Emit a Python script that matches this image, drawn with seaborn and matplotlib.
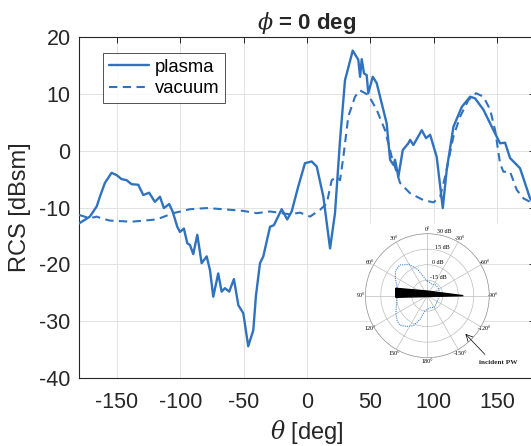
import numpy as np
import pandas as pd
import matplotlib
matplotlib.use("Agg")
import matplotlib.pyplot as plt
import seaborn as sns

# ---------------- data ----------------
THETA_PLASMA = [-180, -171.4, -166, -163.5, -159.6, -154.3, -150.3, -146.4, -142.4, -138.5,
                -133.2, -129.3, -124.6, -120.1, -116.1, -113.0, -108.8, -106.1, -102.4, -100.3,
                -97.2, -94.5, -92.4, -89.8, -86.6, -83.2, -79.2, -76.6, -74.0, -70.1,
                -67.4, -64.8, -61.4, -57.7, -54.2, -50.3, -46.4, -42.4, -40.3, -37.1,
                -34.5, -29.2, -26.1, -20.0, -15.6, -12.1, -6.9, -1.6, 3.7, 7.7,
                12.9, 18.2, 22.1, 26.1, 30.0, 36.1, 40.5, 41.9, 43.2, 45.0,
                47.1, 48.4, 51.9, 55.0, 59.0, 62.9, 65.6, 68.2, 69.5, 72.1,
                75.6, 80.0, 81.4, 84.0, 90.6, 94.0, 97.2, 102.4, 107.2, 110.3,
                115.6, 122.2, 128.8, 132.7, 139.3, 147.2, 152.4, 156.4, 160.3, 165.6,
                168.2, 176.1, 180]
RCS_PLASMA = [-12.8, -11.6, -9.8, -8.1, -5.7, -3.9, -4.3, -5.0, -5.2, -5.9,
              -6.0, -7.8, -7.4, -9.0, -8.1, -10.1, -9.4, -10.7, -13.4, -14.3,
              -13.7, -16.3, -16.6, -18.2, -14.8, -19.8, -18.6, -21.0, -25.7, -21.6,
              -24.8, -24.2, -24.8, -22.6, -27.2, -28.6, -34.4, -31.6, -25.5, -19.8,
              -18.6, -13.4, -13.1, -10.3, -12.1, -10.7, -6.3, -2.2, -1.9, -2.8,
              -8.1, -17.2, -11.0, 1.9, 12.4, 17.6, 16.0, 13.0, 16.1, 13.6,
              13.3, 10.1, 13.0, 11.9, 8.3, 4.8, -1.6, -2.5, -1.6, -4.6,
              0.1, 1.3, 1.9, 1.0, 3.6, 2.2, 2.8, -1.1, -10.1, -3.4,
              4.2, 7.7, 9.5, 9.2, 7.2, 3.6, 1.3, 1.4, -1.3, -2.5,
              -3.1, -8.4, -9.5]

THETA_VACUUM = [-180, -171.4, -166.1, -160.9, -155.6, -138.5, -118.7, -105.6, -92.4, -79.2,
                -66.1, -50.3, -39.7, -29.2, -13.4, -5.5, 2.4, 10.3, 15.6, 19.5,
                23.5, 26.1, 28.7, 32.6, 37.9, 41.9, 48.4, 55.0, 61.6, 66.9,
                73.5, 81.4, 91.9, 99.8, 105.1, 109.0, 115.6, 120.9, 127.4, 133.5,
                139.3, 144.6, 148.5, 152.4, 155.0, 160.3, 165.6, 170.9, 176.1, 180]
RCS_VACUUM = [-11.3, -11.9, -11.6, -12.0, -12.3, -12.5, -12.1, -11.0, -10.3, -10.1,
              -10.3, -10.6, -11.0, -10.7, -11.2, -10.9, -11.6, -10.4, -9.3, -5.2,
              -4.6, -5.2, -1.1, 6.0, 9.5, 10.6, 9.8, 7.2, 3.6, -1.1,
              -5.7, -7.5, -8.7, -9.1, -8.1, -4.6, 2.5, 6.0, 8.9, 10.1,
              9.5, 7.2, 3.6, -2.2, -3.7, -3.7, -6.9, -8.4, -9.0, -9.2]

X_TICKS = [-150, -100, -50, 0, 50, 100, 150]
Y_TICKS = [-40, -30, -20, -10, 0, 10, 20]

# inset: radiation pattern (deg, dB), 0 deg at top, counter-clockwise
PAT_THETA = [0, 10, 20, 30, 42, 52, 62, 72, 80, 90, 100, 110, 120, 130, 137, 146, 155,
             163, 171, 180, 195, 210, 225, 240, 256, 270, 285, 300, 315, 324, 340, 350, 360]
PAT_DB = [-16, -12, -3, 5, 10, 9, 5, 1, 0, -1, 0, 2, 5, 8, 9, 6, 2,
          -6, -15, -17, -18, -17, -18, -19, -19, -18, -18, -17, -17, -17, -18, -17, -16]
THETA_LABELS = ["0°", "30°", "60°", "90°", "120°", "150°", "180°",
                "-150°", "-120°", "-90°", "-60°", "-30°"]
R_TICKS = [-15, 0, 15, 30]
R_LABELS = ["-15 dB", "0 dB", "15 dB", "30 dB"]
# black object outline (deg, dB)
WEDGE_THETA = [76.8, 92.9, -90, 0]
WEDGE_DB = [1.4, 0.6, 4.8, -25.5]

BLUE = "#2f72be"
DARK = "#262626"

sns.set_theme(style="white")
plt.rcParams["font.family"] = ["Liberation Sans", "DejaVu Sans"]
plt.rcParams["mathtext.fontset"] = "dejavuserif"
plt.rcParams["axes.unicode_minus"] = False

df_p = pd.DataFrame({"theta": THETA_PLASMA, "rcs": RCS_PLASMA})
df_v = pd.DataFrame({"theta": THETA_VACUUM, "rcs": RCS_VACUUM})

fig = plt.figure(figsize=(5.31, 4.46), dpi=100)
ax = fig.add_axes([79 / 531, 68 / 446, 456 / 531, 341 / 446])

sns.lineplot(data=df_p, x="theta", y="rcs", ax=ax, color=BLUE, lw=1.7,
             label="plasma", sort=False, estimator=None, zorder=3)
sns.lineplot(data=df_v, x="theta", y="rcs", ax=ax, color=BLUE, lw=1.5,
             label="vacuum", sort=False, estimator=None, zorder=3)
ax.lines[1].set_dashes([4, 2.6])

ax.set_xlim(-180, 180)
ax.set_ylim(-40, 20)
ax.set_xticks(X_TICKS)
ax.set_yticks(Y_TICKS)
ax.tick_params(direction="in", length=4, width=0.7, colors=DARK, labelsize=15.5,
               top=True, right=True)
ax.tick_params(axis="x", pad=10)
ax.tick_params(axis="y", pad=6)
for s in ax.spines.values():
    s.set_color(DARK)
    s.set_linewidth(0.8)

# grid: vertical lines stop above the inset picture
ax.grid(axis="y", color="#e3e3e3", lw=0.7)
for t in X_TICKS:
    lo = -12.7 if t >= 50 else -40
    ax.vlines(t, lo, 20, color="#e3e3e3", lw=0.7, zorder=0.5)

ax.set_xlabel(r"$\theta$ [deg]", fontsize=17, color=DARK, labelpad=4)
ax.set_ylabel("RCS [dBsm]", fontsize=17, color=DARK, labelpad=6)
ax.set_title(r"$\phi$ = 0 deg", fontsize=16, fontweight="bold", pad=6)

leg = ax.legend(loc="upper left", bbox_to_anchor=(0.0526, 0.953), borderaxespad=0,
                fontsize=13.3, frameon=True, fancybox=False, handlelength=2.2,
                handletextpad=0.3, labelspacing=0.25, borderpad=0.3)
leg.get_frame().set_edgecolor(DARK)
leg.get_frame().set_linewidth(0.7)
for t in leg.get_texts():
    t.set_color("black")

# ---------------- polar inset ----------------
r_px = 62
cx, cy = 427.3, 446 - 295.7
pax = fig.add_axes([(cx - r_px) / 531, (cy - r_px) / 446, 2 * r_px / 531, 2 * r_px / 446],
                   projection="polar")
pax.set_theta_zero_location("N")
pax.set_theta_direction(1)
pax.set_ylim(-30, 30)
pax.set_yticks(R_TICKS)
pax.set_yticklabels(R_LABELS, fontsize=4.3, family="Liberation Serif")
pax.set_rlabel_position(-9)
pax.set_xticks(np.deg2rad(np.arange(0, 360, 30)))
pax.set_xticklabels(THETA_LABELS, fontsize=4.3, family="Liberation Serif")
pax.xaxis.set_minor_locator(matplotlib.ticker.MultipleLocator(np.deg2rad(5)))
pax.tick_params(axis="x", which="both", direction="in", length=2, width=0.4,
                colors="#9a9a9a", pad=-4)
pax.tick_params(axis="x", which="major", labelcolor="black")
pax.tick_params(axis="y", labelcolor="black", pad=0)
pax.grid(color="#bdbdbd", lw=0.5)
pax.spines["polar"].set_color("#9a9a9a")
pax.spines["polar"].set_linewidth(0.5)
pax.set_facecolor("white")

pax.plot(np.deg2rad(PAT_THETA), PAT_DB, color="#3f88d0", lw=0.8, ls=(0, (1, 1)))
pax.fill(np.deg2rad(WEDGE_THETA), WEDGE_DB, color="black", zorder=4)

pax.annotate("", xy=(np.deg2rad(-135), 19.5), xycoords="data",
             xytext=(0.98, 0.01), textcoords="axes fraction",
             arrowprops=dict(arrowstyle="->", color="black", lw=0.5))
pax.text(1.07, -0.035, "incident PW", transform=pax.transAxes, fontsize=5.2,
         family="Liberation Serif", fontweight="bold", ha="center", va="center")

fig.savefig("out.png", dpi=100)
